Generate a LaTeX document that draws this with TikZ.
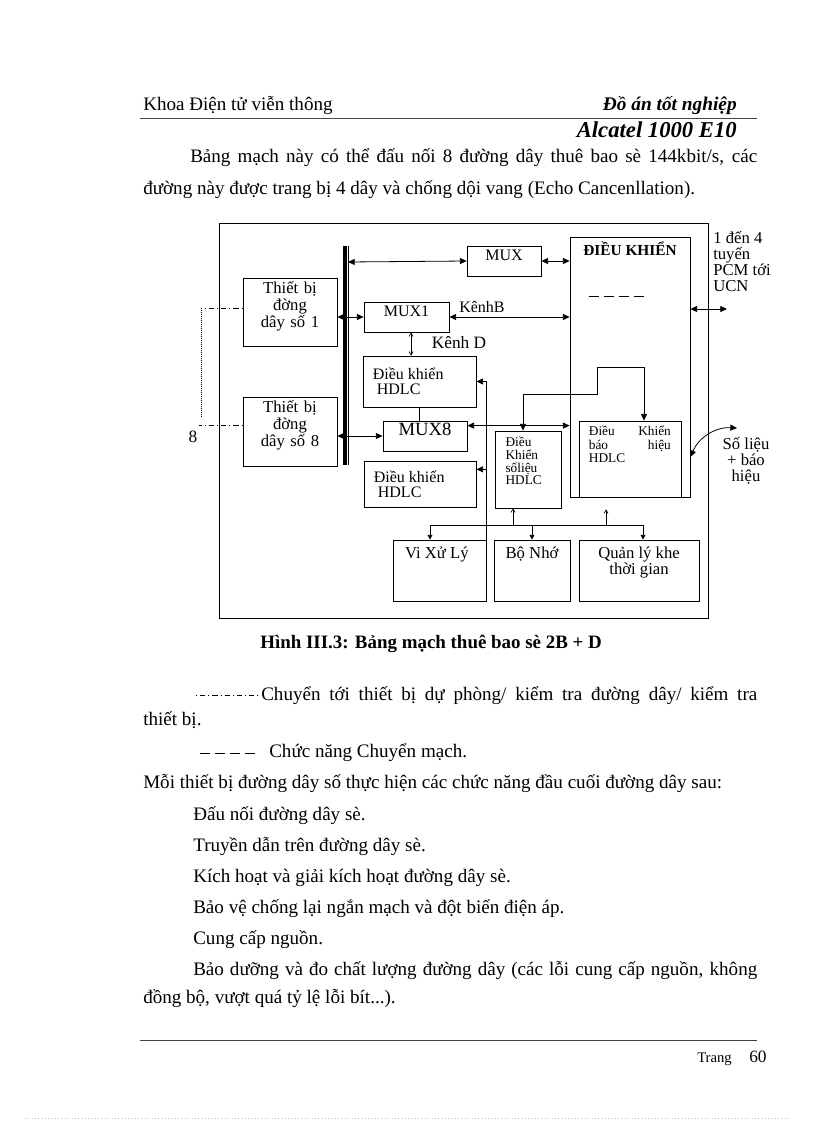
\documentclass[tikz,border=0pt]{standalone}
\usepackage{fontspec}
\setmainfont{Liberation Serif}
\usepackage{tikz}
\usetikzlibrary{arrows.meta,positioning,fit,calc}
\definecolor{EdgeGray}{HTML}{BBBBBB}
\definecolor{RuleGray}{HTML}{444444}

\begin{document}
\begin{tikzpicture}[x=0.75pt,y=-0.75pt,
    blk/.style={draw,line width=0.6pt,inner sep=0pt},
    arr/.style={line width=0.6pt,-{Triangle[length=5pt,width=4.5pt]}},
    arrs/.style={line width=0.6pt,-{Triangle[length=3.5pt,width=3.5pt]}},
    darr/.style={line width=0.6pt,{Triangle[length=5pt,width=4.5pt]}-{Triangle[length=5pt,width=4.5pt]}},
    sarr/.style={line width=0.5pt,-{Straight Barb[length=2.5pt,width=3pt]}},
    dsarr/.style={line width=0.5pt,{Straight Barb[length=2.5pt,width=3pt]}-{Straight Barb[length=2.5pt,width=3pt]}},
    bodytxt/.style={font=\fontsize{14.3}{16}\selectfont,inner sep=0pt},
    dashdot/.style={line width=0.5pt,dash pattern=on 0.8pt off 2.2pt on 4pt off 2.2pt}]
  \useasboundingbox (0,0) rectangle (816,1123);

  % header
  \node[bodytxt,anchor=base west] (hdl) at (143,111) {Khoa Điện tử viễn thông};
  \node[bodytxt,anchor=base east,font=\fontsize{14.5}{16}\selectfont\bfseries\itshape] (hdr) at (737,111) {Đồ án tốt nghiệp};
  \draw[RuleGray,line width=0.5pt] (140,118) -- (757,118);
  \node[bodytxt,anchor=base east,font=\fontsize{17}{19}\selectfont\bfseries\itshape] (alc) at (737,138) {Alcatel 1000 E10};

  \node[bodytxt,anchor=base west] (par1) at (190,163) {\makebox[425.25pt][s]{Bảng mạch này có thể đấu nối 8 đường dây thuê bao sè 144kbit/s, các}};
  \node[bodytxt,anchor=base west] (par2) at (143,195) {đường này được trang bị 4 dây và chống dội vang (Echo Cancenllation).};

  % board
  \node[blk,fit={(219,223) (708,618)}] (board) {};
  \draw[line width=3pt] (345,246) -- (345,465);
  \draw[line width=0.6pt] (348.5,246) -- (348.5,465);

  \node[blk,fit={(467,246) (541,276)},font=\fontsize{12}{13}\selectfont] (mux) {MUX};
  \node[blk,fit={(570,237) (690,497)},
        label={[anchor=north,yshift=-4pt,inner sep=0pt,font=\fontsize{11.5}{13}\selectfont\bfseries]north:ĐIỀU KHIỂN}] (ctrl) {};
  \draw[line width=0.6pt,dash pattern=on 7.5pt off 3.75pt] ([xshift=14.25pt,yshift=-45pt]ctrl.north west) -- ++(56,0);

  \node[blk,fit={(243,278) (337,346)},align=center,font=\fontsize{12.5}{12.6}\selectfont] (tb1) {Thiết bị\\đờng\\dây số 1};
  \node[blk,fit={(243,397) (337,466)},align=center,font=\fontsize{12.5}{12.6}\selectfont] (tb8) {Thiết bị\\đờng\\dây số 8};

  \node[blk,fit={(364,302) (449,332)},font=\fontsize{12}{13}\selectfont] (mux1) {MUX1};
  \node[blk,fit={(363,356) (476,407)},
        label={[anchor=west,xshift=7.5pt,inner sep=0pt,align=left,font=\fontsize{12}{11.25}\selectfont]west:Điều khiển\\\hspace*{3pt}HDLC}] (hdlc1) {};
  \node[blk,fit={(383,421) (467,451)},font=\fontsize{14}{15}\selectfont] (mux8) {MUX8};
  \node[blk,fit={(364,461) (476,507)},
        label={[anchor=west,xshift=7.5pt,inner sep=0pt,align=left,font=\fontsize{12}{11.25}\selectfont]west:Điều khiển\\\hspace*{3pt}HDLC}] (hdlc8) {};

  \node[blk,fit={(495,431) (561,508)},
        label={[anchor=north west,xshift=8pt,yshift=-4.5pt,inner sep=0pt,align=left,font=\fontsize{10}{9.6}\selectfont]north west:Điều\\Khiển\\sốliệu\\HDLC}] (dksl) {};
  \node[blk,fit={(579,421) (681,497)},
        label={[anchor=north west,xshift=7.5pt,yshift=-4pt,inner sep=0pt,text width=61.5pt,align=left,font=\fontsize{10}{10}\selectfont]north west:Điều\hfill Khiển\\báo\hfill hiệu\\HDLC}] (dkbh) {};

  \node[blk,fit={(393,540) (486,601)},
        label={[anchor=north,xshift=-2pt,yshift=-5pt,inner sep=0pt,font=\fontsize{12.5}{13}\selectfont]north:Vi Xử Lý}] (cpu) {};
  \node[blk,fit={(494,540) (570,601)},
        label={[anchor=north,yshift=-5pt,inner sep=0pt,font=\fontsize{12.5}{13}\selectfont]north:Bộ Nhớ}] (mem) {};
  \node[blk,fit={(579,540) (699,601)},
        label={[anchor=north,yshift=-5pt,inner sep=0pt,align=center,font=\fontsize{12.5}{11.25}\selectfont]north:Quản lý khe\\thời gian}] (tsm) {};

  % connections
  \coordinate (b0) at (348,262);
  \draw[darr] (b0) -- (mux.west);
  \draw[darr] (mux.east) -- (mux.east -| ctrl.west);
  \draw[darr] (tb1.east |- mux1.west) -- (mux1.west);
  \draw[darr] (mux1.east) -- (mux1.east -| ctrl.west);
  \node[font=\fontsize{12}{13}\selectfont,inner sep=0pt] (kb) at (482,307) {KênhB};
  \coordinate (kd1) at ([xshift=3.4pt]mux1.south);
  \draw[dsarr] (kd1) -- (kd1 |- hdlc1.north);
  \node[font=\fontsize{13}{15}\selectfont,inner sep=0pt] (kd) at (459,343) {Kênh D};
  \draw[line width=0.6pt] (hdlc1.south) -- (hdlc1.south |- mux8.north);
  \draw[darr] (tb8.east |- mux8.west) -- (mux8.west);
  \coordinate (k8) at ([yshift=-3.75pt]mux8.north east);
  \draw[darr] (k8) -- (k8 -| ctrl.west);

  \coordinate (sa) at (523,394);
  \coordinate (sb) at (597,394);
  \coordinate (sc) at (597,367);
  \coordinate (sd) at (644,367);
  \draw[darr] (sa |- dksl.north) -- (sa) -- (sb) -- (sc) -- (sd) -- (sd |- dkbh.north);

  \draw[arr] (cpu.north east) |- (hdlc1.east);
  \coordinate (h8in) at ([yshift=11pt]hdlc8.east);
  \draw[arr] (cpu.north east |- h8in) -- (h8in);

  \coordinate (dl) at (430,525);
  \coordinate (dr) at (643,525);
  \draw[line width=0.6pt] (dl) -- (dr);
  \draw[arrs] (dl) -- (dl |- cpu.north);
  \draw[arrs] (dl -| mem.north) -- (mem.north);
  \draw[arrs] (dr) -- (dr |- tsm.north);
  \coordinate (u1) at (513,525);
  \coordinate (u2) at (606,525);
  \draw[sarr] (u1) -- (u1 |- dksl.south);
  \draw[sarr,shorten >=9pt] (u2) -- (u2 |- ctrl.south);

  \node[anchor=north west,align=left,inner sep=0pt,font=\fontsize{12.5}{12}\selectfont] (pcm) at (713,231) {1 đến 4\\tuyến\\PCM tới\\UCN};
  \coordinate (pe) at (727,309);
  \draw[darr] (pe -| ctrl.east) -- (pe);
  \node[align=center,inner sep=0pt,font=\fontsize{12.5}{12}\selectfont] (slbh) at (746,461) {Số liệu\\+ báo\\hiệu};
  \coordinate (ss) at (691,457);
  \coordinate (se) at (737,428);
  \draw[darr] (ctrl.east |- ss) to[bend left=35] (se);

  \coordinate (s1) at (201,308);
  \coordinate (s8) at (201,425);
  \draw[dashdot] (tb1.west |- s1) -- (s1);
  \draw[line width=0.5pt,densely dotted] (s1) -- ([yshift=6pt]s8);
  \draw[dashdot] (tb8.west |- s8) -- ([xshift=-1.5pt]s8);
  \node[font=\fontsize{13}{15}\selectfont,inner sep=0pt] (n8) at (193,437) {8};

  % caption and text below
  \node[bodytxt,anchor=base west,font=\fontsize{14.2}{16}\selectfont\bfseries] (cap) at (260,648) {Hình III.3: Bảng mạch thuê bao sè 2B + D};

  \coordinate (lg1) at (196,695);
  \draw[dashdot] (lg1) -- ++(65,0);
  \node[bodytxt,anchor=base west] (lgt1) at (261,700) {\makebox[372pt][s]{Chuyển tới thiết bị dự phòng/ kiểm tra đường dây/ kiểm tra}};
  \node[bodytxt,anchor=base west] (lgt2) at (143,725) {thiết bị.};
  \coordinate (lg2) at (200,753);
  \draw[line width=0.5pt,dash pattern=on 7.5pt off 3.75pt] (lg2) -- ++(55,0);
  \node[bodytxt,anchor=base west] (lgt3) at (269,757) {Chức năng Chuyển mạch.};

  \node[bodytxt,anchor=base west] (l0) at (143,788) {Mỗi thiết bị đường dây số thực hiện các chức năng đầu cuối đường dây sau:};
  \node[bodytxt,anchor=base west] (l1) at (193,820) {Đấu nối đường dây sè.};
  \node[bodytxt,anchor=base west] (l2) at (193,851) {Truyền dẫn trên đường dây sè.};
  \node[bodytxt,anchor=base west] (l3) at (193,882) {Kích hoạt và giải kích hoạt đường dây sè.};
  \node[bodytxt,anchor=base west] (l4) at (193,913) {Bảo vệ chống lại ngắn mạch và đột biến điện áp.};
  \node[bodytxt,anchor=base west] (l5) at (193,944) {Cung cấp nguồn.};
  \node[bodytxt,anchor=base west] (l6) at (193,975) {\makebox[423pt][s]{Bảo dưỡng và đo chất lượng đường dây (các lỗi cung cấp nguồn, không}};
  \node[bodytxt,anchor=base west] (l7) at (143,1003) {đồng bộ, vượt quá tỷ lệ lỗi bít...).};

  % footer
  \draw[RuleGray,line width=0.5pt] (140,1040) -- (757,1040);
  \node[anchor=base west,inner sep=0pt,font=\fontsize{11}{13}\selectfont] (pg) at (697,1062) {Trang};
  \node[anchor=base west,inner sep=0pt,font=\fontsize{13}{15}\selectfont] (pgn) at (749,1062) {60};
  \draw[EdgeGray,line width=0.5pt,dotted] (25,1118) -- (790,1118);
\end{tikzpicture}
\end{document}
